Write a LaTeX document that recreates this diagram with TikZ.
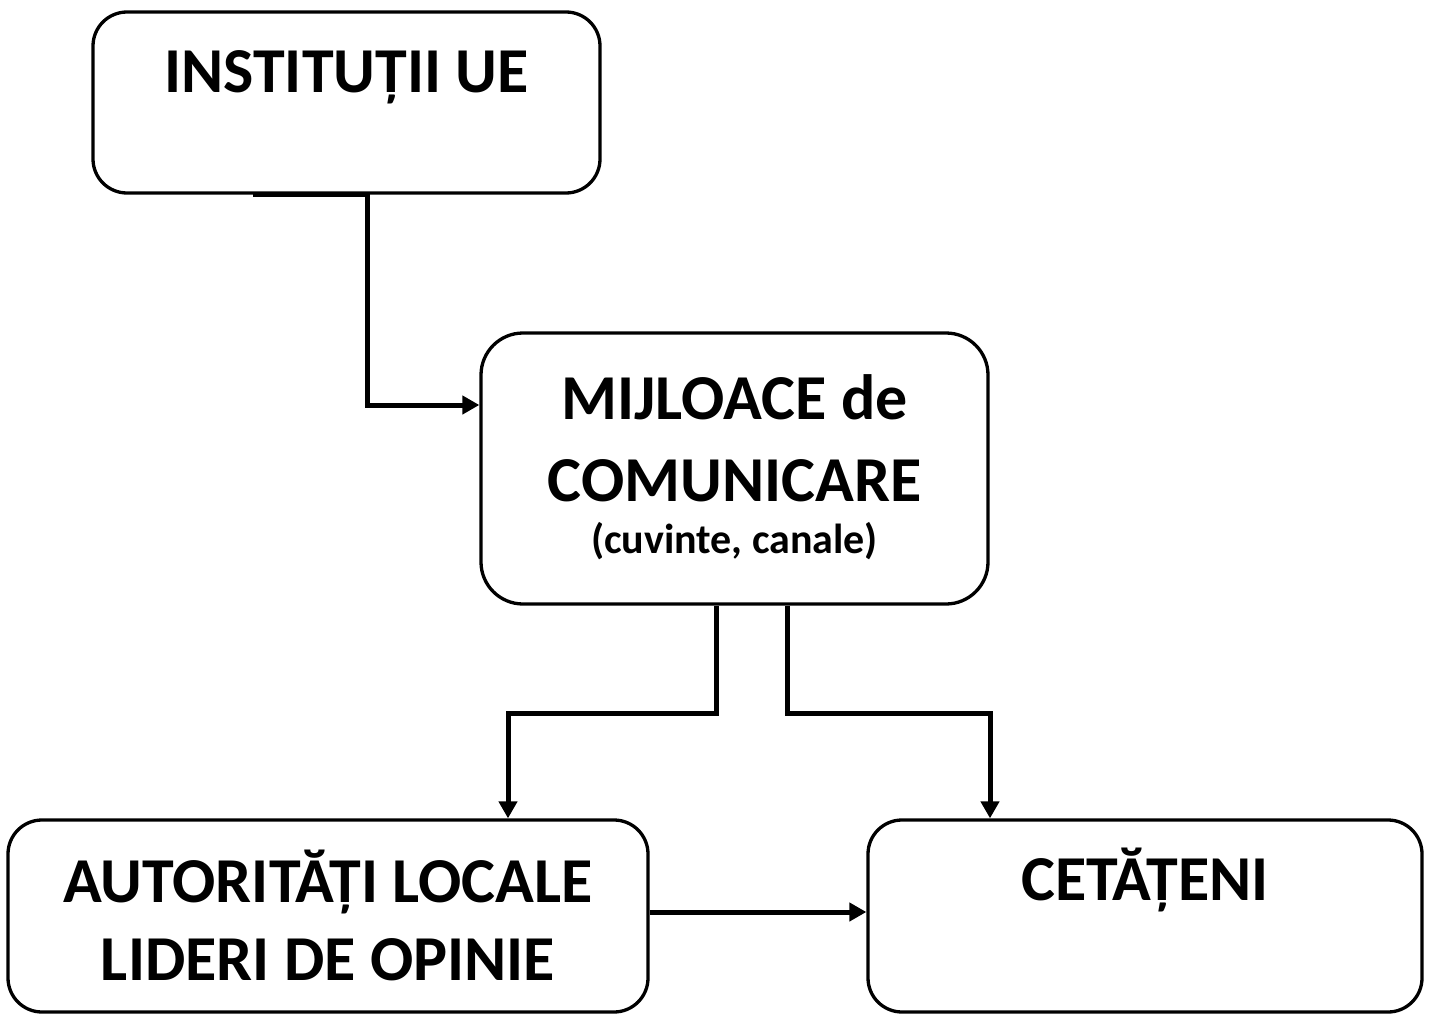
\documentclass[tikz,border=0pt]{standalone}
\usepackage{fontspec}
\setmainfont{Carlito}
\usetikzlibrary{arrows.meta}

\begin{document}
\begin{tikzpicture}[x=1pt, y=-1pt,
	box/.style={draw, line width=3.3pt, rounded corners=34pt, inner sep=0pt},
	lbl/.style={align=center, inner sep=0pt, font=\bfseries\fontsize{64}{82}\selectfont},
	conn/.style={line width=5pt, -{Triangle[length=17pt,width=18pt]}}]
 \useasboundingbox (0,0) rectangle (1432,1014);
 \node[box, minimum width=507pt, minimum height=181pt] (inst) at (346.5,102.5) {};
 \node[box, minimum width=507pt, minimum height=271pt, rounded corners=42pt] (mij) at (734.5,468.5) {};
 \node[box, minimum width=640pt, minimum height=192pt] (aut) at (328,916) {};
 \node[box, minimum width=554pt, minimum height=192pt] (cet) at (1145,916) {};

 \node[lbl, anchor=base] (instL) at (346.5,93) {INSTITUȚII UE};
 \node[lbl, anchor=base] (mijL) at (734.5,553) {MIJLOACE de\\COMUNICARE\\[-30pt]
	{\fontsize{42}{46}\selectfont (cuvinte, canale)}};
 \node[lbl, anchor=base, font=\bfseries\fontsize{64}{78}\selectfont] (autL) at (328,980) {AUTORITĂȚI LOCALE\\LIDERI DE OPINIE};
 \node[lbl, anchor=base] (cetL) at (1145,900) {CETĂȚENI};

 \coordinate (iS) at ([xshift=-93.5pt]inst.south);
 \draw[conn] (iS) -- ++(114,0) |- ([yshift=63.5pt]mij.west);
 \draw[conn] ([xshift=-18.5pt]mij.south) -- ++(0,108) -| ([xshift=180pt]aut.north);
 \draw[conn] ([xshift=52.5pt]mij.south) -- ++(0,108) -| ([xshift=-155pt]cet.north);
 \draw[conn] ([yshift=4pt]aut.east) -- ([yshift=4pt]cet.west);
\end{tikzpicture}
\end{document}
